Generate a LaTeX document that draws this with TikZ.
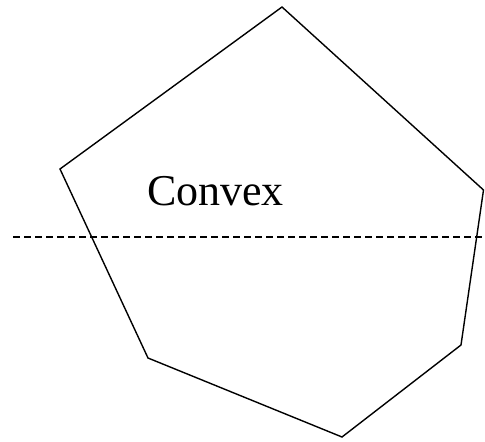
\documentclass[tikz,border=0pt]{standalone}
\usepackage{fontspec}
\setmainfont{Liberation Serif}
\begin{document}
\begin{tikzpicture}[x=1pt,y=-1pt,
  edge/.style={line width=1.4pt,line join=miter},
  cut/.style={line width=1.3pt,dash pattern=on 6.5pt off 4.5pt},
  lbl/.style={font=\fontsize{44}{44}\selectfont,anchor=base,inner sep=0pt}]
\useasboundingbox (0,0) rectangle (485,442);
% polygon corners
\coordinate (p1) at (282,7);
\coordinate (p2) at (483.5,190);
\coordinate (p3) at (461,345);
\coordinate (p4) at (342,437);
\coordinate (p5) at (148,358);
\coordinate (p6) at (60,169);
\draw[edge] (p1) -- (p2) -- (p3) -- (p4) -- (p5) -- (p6) -- cycle;
% cutting line
\coordinate (c1) at (13,237);
\coordinate (c2) at (485,237);
\draw[cut] (c1) -- (c2);
\node[lbl] (title) at (215.5,205) {Convex};
\end{tikzpicture}
\end{document}
